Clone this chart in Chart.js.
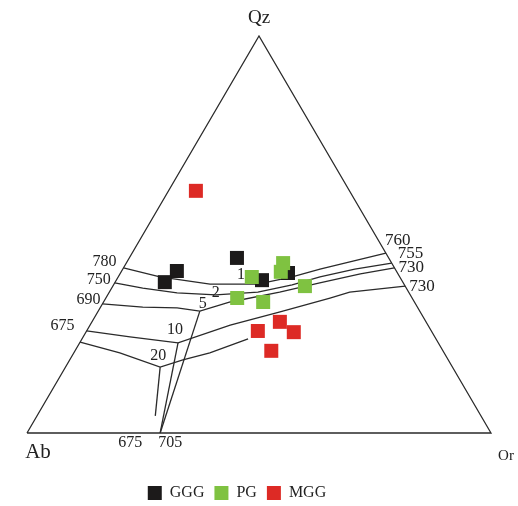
<!DOCTYPE html>
<html>
<head>
<meta charset="utf-8">
<script src="https://cdn.jsdelivr.net/npm/chart.js@4.4.0/dist/chart.umd.min.js"></script>
<style>
body { margin: 0; background: #fff; }
#wrap { width: 518px; height: 506px; }
</style>
</head>
<body>
<div id="wrap"><canvas id="myChart"></canvas></div>
<script>
// sample compositions in % (Qz, Or; Ab is the rest)
var gggQz = [44.1, 40.8, 38.0, 38.5, 40.3];
var gggOr = [23.2, 11.9, 10.7, 31.4, 36.1];
var pgQz = [39.3, 42.8, 40.6, 37.0, 34.0, 33.0];
var pgOr = [28.8, 33.8, 34.4, 41.4, 28.3, 34.4];
var mggQz = [61.0, 25.7, 28.0, 25.4, 20.7];
var mggOr = [5.9, 36.9, 40.5, 44.8, 42.3];

// cotectic curves, [Qz, Or] pairs
var line780 = [[41.6, 0], [39.3, 9.0], [37.5, 20.7], [37.5, 26.3], [37.5, 31.0], [39.3, 37.5], [41.3, 42.5], [43.3, 48.6], [45.3, 54.7]];
var line750 = [[37.8, 0], [36.5, 6.7], [35.3, 14.7], [34.8, 23.3], [35.5, 32.0], [37.3, 38.5], [39.3, 43.5], [41.3, 50.0], [42.8, 57.2]];
var line690 = [[32.5, 0], [31.7, 9.1], [31.5, 16.6], [30.7, 21.9], [33.0, 27.3], [35.5, 36.7], [37.8, 44.2], [40.1, 51.8], [41.6, 58.4]];
var line675 = [[25.7, 0], [24.2, 10.1], [22.7, 21.2], [27.2, 30.2], [30.5, 39.3], [34.0, 48.3], [35.5, 51.8], [37.0, 63.0]];
var line20 = [[22.9, 0], [20.2, 9.9], [16.6, 20.4], [18.4, 24.4], [20.2, 29.3], [23.7, 35.8]];
var tie5 = [[30.7, 21.9], [0, 28.7]];
var tie10 = [[22.7, 21.2], [0, 28.7]];
var tie20 = [[16.6, 20.4], [4.3, 25.5]];
var frame = [[0, 0], [0, 100], [100, 0], [0, 0]];

var leftTemps = ['780', '750', '690', '675'];
var rightTemps = ['760', '755', '730', '730'];
var kinkLabels = ['1', '2', '5', '10', '20'];
var baseTemps = ['675', '705'];
var apexNames = ['Qz', 'Ab', 'Or'];
var seriesNames = ['GGG', 'PG', 'MGG'];

function tern(qz, or) {
    return { x: or + qz / 2, y: qz };
}
function samples(qz, or) {
    return qz.map(function (q, i) { return tern(q, or[i]); });
}
function curve(pairs) {
    return pairs.map(function (p) { return tern(p[0], p[1]); });
}

var ink = '#2a2a2a';
var serif = '"Liberation Serif", "Times New Roman", serif';

function pointSet(label, data, color, order) {
    return {
        label: label,
        data: data,
        order: order,
        pointStyle: 'rect',
        pointRadius: 9.9,
        pointHoverRadius: 9.9,
        backgroundColor: color,
        borderColor: color,
        borderWidth: 0,
        pointBorderWidth: 0,
        clip: false
    };
}
function lineSet(data) {
    return {
        label: '',
        data: data,
        order: 10,
        showLine: true,
        pointRadius: 0,
        borderColor: ink,
        borderWidth: 1.3,
        tension: 0,
        clip: false
    };
}

var datasets = [
    pointSet(seriesNames[0], samples(gggQz, gggOr), '#1c1a1a', 3),
    pointSet(seriesNames[1], samples(pgQz, pgOr), '#7fc241', 2),
    pointSet(seriesNames[2], samples(mggQz, mggOr), '#dd2a25', 1)
];
[frame, line780, line750, line690, line675, line20, tie5, tie10, tie20].forEach(function (c) {
    datasets.push(lineSet(curve(c)));
});

var labelPlugin = {
    id: 'ternLabels',
    afterDatasetsDraw: function (chart) {
        var ctx = chart.ctx;
        var xs = chart.scales.x, ys = chart.scales.y;
        function px(p) {
            return { x: xs.getPixelForValue(p[1] + p[0] / 2), y: ys.getPixelForValue(p[0]) };
        }
        function txt(s, p, dx, dy, align, size) {
            ctx.font = size + 'px ' + serif;
            ctx.textAlign = align;
            ctx.textBaseline = 'middle';
            ctx.fillText(s, p.x + dx, p.y + dy);
        }
        ctx.save();
        ctx.fillStyle = '#222';
        var lefts = [line780, line750, line690, line675];
        var leftOff = [[-7, -6], [-4, -3], [-2, -4], [-12, -5]];
        lefts.forEach(function (c, i) {
            txt(leftTemps[i], px(c[0]), leftOff[i][0], leftOff[i][1], 'right', 16);
        });
        var rightOff = [[-1, -13], [6, -10], [4, 0], [4, 0]];
        lefts.forEach(function (c, i) {
            txt(rightTemps[i], px(c[c.length - 1]), rightOff[i][0], rightOff[i][1], 'left', 17);
        });
        var kinks = [line780[3], line750[3], line690[3], line675[2], line20[2]];
        var kinkOff = [[5, -9], [0, -2], [3, -7], [-3, -13], [-2, -11]];
        kinks.forEach(function (p, i) {
            txt(kinkLabels[i], px(p), kinkOff[i][0], kinkOff[i][1], 'center', 16);
        });
        var foot = px(tie5[1]);
        txt(baseTemps[0], foot, -30, 10, 'center', 16);
        txt(baseTemps[1], foot, 10, 10, 'center', 16);
        txt(apexNames[0], px([100, 0]), 0, -18, 'center', 19);
        txt(apexNames[1], px([0, 0]), 11, 19, 'center', 21);
        txt(apexNames[2], px([0, 100]), 15, 23, 'center', 15);
        ctx.restore();
    }
};

var chart = new Chart(document.getElementById('myChart').getContext('2d'), {
    type: 'scatter',
    data: { datasets: datasets },
    options: {
        responsive: true,
        maintainAspectRatio: false,
        animation: false,
        events: [],
        layout: { autoPadding: false, padding: { left: 0, right: 44, top: 0, bottom: -5 } },
        scales: {
            x: { type: 'linear', display: false, min: -5.82, max: 96.34 },
            y: { type: 'linear', display: false, min: -10.58, max: 109.07 }
        },
        plugins: {
            tooltip: { enabled: false },
            legend: {
                position: 'bottom',
                labels: {
                    boxWidth: 14,
                    boxHeight: 14,
                    padding: 10,
                    color: '#222',
                    font: { family: serif, size: 16 },
                    filter: function (item) { return item.datasetIndex < 3; },
                    sort: function (a, b) { return a.datasetIndex - b.datasetIndex; }
                }
            }
        }
    },
    plugins: [labelPlugin]
});
</script>
</body>
</html>
